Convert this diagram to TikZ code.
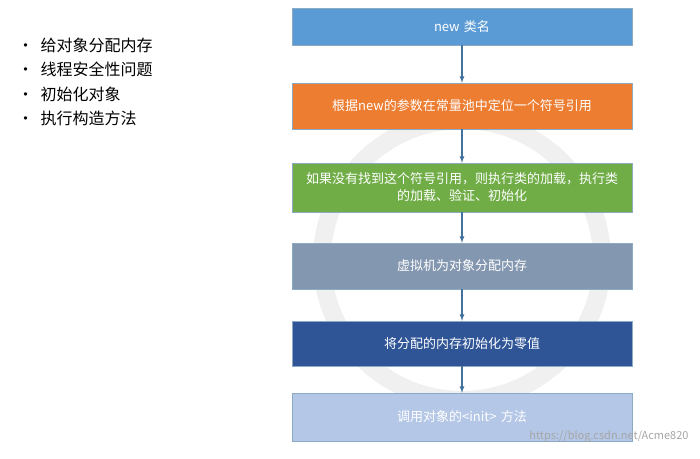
\documentclass[tikz,border=0pt]{standalone}
\usepackage{fontspec}
\setmainfont{Noto Sans CJK SC}
\usetikzlibrary{positioning}
\definecolor{cBlue}{HTML}{5B9BD5}
\definecolor{cOrange}{HTML}{ED7D31}
\definecolor{cGreen}{HTML}{70AD47}
\definecolor{cGrey}{HTML}{8497B0}
\definecolor{cDark}{HTML}{2F5597}
\definecolor{cLight}{HTML}{B4C7E7}
\definecolor{cArrow}{HTML}{41719C}
\tikzset{
  stepbox/.style={draw=cArrow!60, minimum width=340pt, text width=330pt, align=center, text=white, font=\fontsize{13}{17}\selectfont},
  flow/.style={->, >=latex, very thick, cArrow}
}
\begin{document}
\begin{tikzpicture}[x=1pt,y=-1pt]
\useasboundingbox (0,0) rectangle (700,458);
% watermark ring
\draw[gray!12, line width=18pt] (462,260) circle (140);

\node[stepbox, fill=cBlue, minimum height=37pt] (new) at (462,26.5) {new 类名};
\node[stepbox, fill=cOrange, minimum height=46pt] (pool) at (462,106) {根据new的参数在常量池中定位一个符号引用};
\node[stepbox, fill=cGreen, minimum height=49pt] (load) at (462,187.5) {如果没有找到这个符号引用，则执行类的加载，执行类\\的加载、验证、初始化};
\node[stepbox, fill=cGrey, minimum height=46pt] (alloc) at (462,266) {虚拟机为对象分配内存};
\node[stepbox, fill=cDark, minimum height=45pt] (zero) at (462,343.5) {将分配的内存初始化为零值};
\node[stepbox, fill=cLight, minimum height=48pt] (init) at (462,417) {调用对象的<init> 方法};

\draw[flow] (new) -- (pool);
\draw[flow] (pool) -- (load);
\draw[flow] (load) -- (alloc);
\draw[flow] (alloc) -- (zero);
\draw[flow] (zero) -- (init);

% bullet list
\node[anchor=north west, align=left, font=\fontsize{16}{24.5}\selectfont] (list) at (14,34)
  {• \ 给对象分配内存\\• \ 线程安全性问题\\• \ 初始化对象\\• \ 执行构造方法};

\node[anchor=south east, text=gray!70, font=\fontsize{11}{12}\selectfont] (mark) at (692,446) {https://blog.csdn.net/Acme820};
\end{tikzpicture}
\end{document}
